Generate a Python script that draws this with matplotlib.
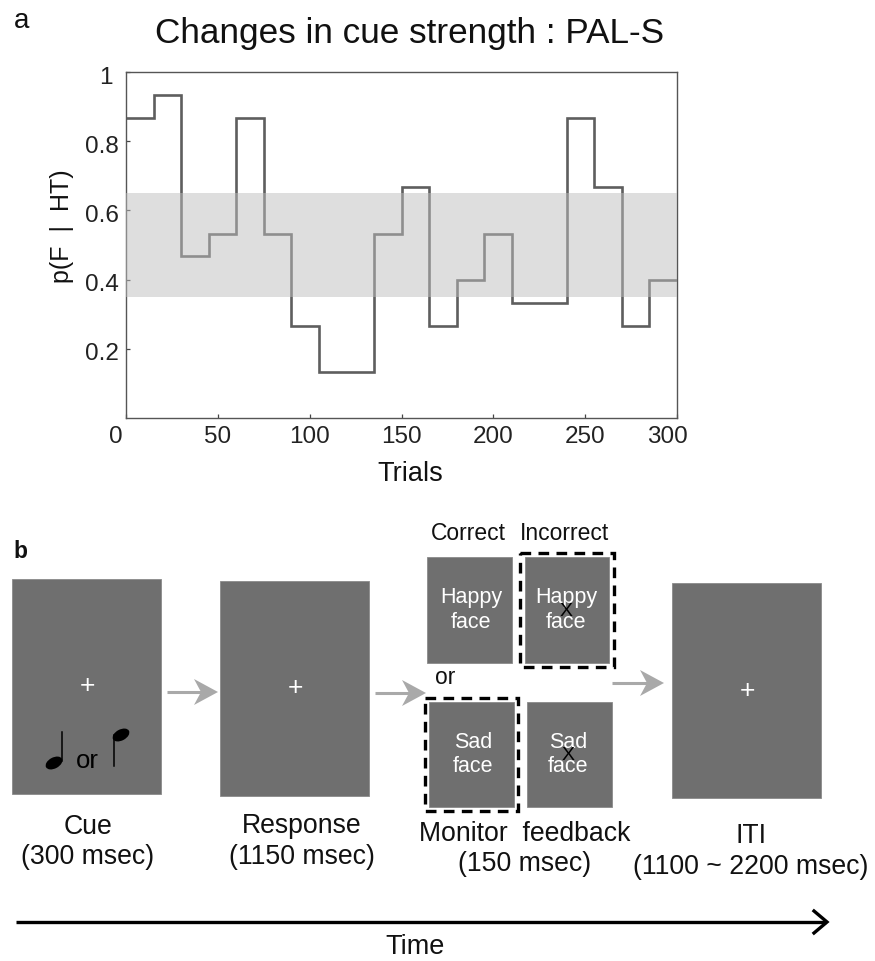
import matplotlib
matplotlib.use("Agg")
import matplotlib.pyplot as plt
from matplotlib.patches import Rectangle, Ellipse, Polygon
from matplotlib.transforms import ScaledTranslation

plt.rcParams['font.family'] = ['Liberation Sans', 'DejaVu Sans']

W, H = 875, 961

# cue strength blocks
block_edges = [0, 15, 30, 45, 60, 75, 90, 105, 135, 150, 165, 180, 195, 210, 240, 255, 270, 285, 300]
block_values = [0.867, 0.933, 0.467, 0.533, 0.867, 0.533, 0.267, 0.133, 0.533,
                0.667, 0.267, 0.4, 0.533, 0.333, 0.867, 0.667, 0.267, 0.4]
band_low, band_high = 0.35, 0.65
x_ticks = [0, 50, 100, 150, 200, 250, 300]
y_ticks = [0.2, 0.4, 0.6, 0.8, 1]
y_tick_labels = ['0.2', '0.4', '0.6', '0.8', '1']

panel_labels = ['a', 'b']
title = 'Changes in cue strength : PAL-S'

fig = plt.figure(figsize=(W / 100, H / 100), dpi=100)

# whole-figure layer in pixel coordinates for the task diagram
bg = fig.add_axes([0, 0, 1, 1])
bg.set_xlim(0, W)
bg.set_ylim(H, 0)
bg.axis('off')

# panel a
left, right, top, bottom = 126, 677, 72, 418
ax = fig.add_axes([left / W, 1 - bottom / H, (right - left) / W, (bottom - top) / H])
ax.plot(block_edges, block_values + [block_values[-1]], drawstyle='steps-post',
        color='#5e5e5e', lw=1.9, solid_joinstyle='miter')
ax.axhspan(band_low, band_high, color='#bfbfbf', alpha=0.5, lw=0, zorder=3)
ax.set_xlim(0, 300)
ax.set_ylim(0, 1)
ax.set_xticks(x_ticks)
ax.set_yticks(y_ticks)
ax.set_yticklabels(y_tick_labels)
ax.tick_params(direction='in', length=3, width=0.9, color='#444444', labelsize=17.5,
               labelcolor='#222222', pad=6)
for s in ax.spines.values():
    s.set_color('#555555')
    s.set_linewidth(1.0)

# the outer labels sit off their ticks in the original
def shift(label, dx, dy):
    label.set_transform(label.get_transform() + ScaledTranslation(dx / 100, -dy / 100, fig.dpi_scale_trans))

xl = ax.get_xticklabels()
shift(xl[0], -10, 0)
shift(xl[-1], -10, 0)
shift(ax.get_yticklabels()[-1], -5, 3)
for l in ax.get_yticklabels()[:-1]:
    shift(l, 1, 3)

bg.text(22, 21, panel_labels[0], fontsize=20, ha='center', va='center', color='#111111')
bg.text(410, 33, title, fontsize=25.3, ha='center', va='center', color='#111111')
bg.text(410, 474, 'Trials', fontsize=19.5, ha='center', va='center', color='#111111')
bg.text(62, 226, 'p(F  |  HT)', fontsize=18, rotation=90, ha='center', va='center', color='#111111')

# panel b
bg.text(20, 551, panel_labels[1], fontsize=16.5, fontweight='bold', ha='center', va='center', color='#111111')

BOX = '#6f6f6f'

def box(x0, y0, x1, y1):
    bg.add_patch(Rectangle((x0, y0), x1 - x0, y1 - y0, fc=BOX, ec='#8a8a8a', lw=0.6))

def dashed(x0, y0, x1, y1):
    bg.add_patch(Rectangle((x0, y0), x1 - x0, y1 - y0, fc='none', ec='black', lw=2.4,
                           ls=(0, (3.2, 2.2))))

def cross(x, y):
    bg.text(x, y, '+', color='white', fontsize=19, ha='center', va='center')

def grey_arrow(x0, x1, y):
    bg.plot([x0, x1 - 14], [y, y], color='#a9a9a9', lw=2.2, solid_capstyle='butt')
    bg.add_patch(Polygon([(x1, y), (x1 - 24, y - 13), (x1 - 17, y), (x1 - 24, y + 13)],
                         fc='#a9a9a9', ec='none'))

def note(hx, hy, sx, sy0, sy1):
    bg.add_patch(Ellipse((hx, hy), 18, 11, angle=-28, fc='black', ec='none'))
    bg.plot([sx, sx], [sy0, sy1], color='black', lw=1.1)

def face(cx, y0, word):
    bg.text(cx, y0, word, color='white', fontsize=15.5, ha='center', va='center')
    bg.text(cx, y0 + 25, 'face', color='white', fontsize=15.5, ha='center', va='center')

box(12, 579, 161, 794)
box(220, 581, 369, 796)
box(427, 557, 512, 663)
box(525, 557, 609, 663)
box(429, 702, 514, 807)
box(527, 702, 612, 807)
box(672, 583, 821, 798)
dashed(520, 553, 614, 667)
dashed(425, 698, 518, 811)

cross(87, 686)
cross(295, 688)
cross(747, 691)

note(54, 763, 62, 732, 761)
note(121, 735, 114, 735, 766)
bg.text(87, 761, 'or', color='black', fontsize=18.5, ha='center', va='center')

face(471, 598, 'Happy')
face(566, 598, 'Happy')
face(473, 742, 'Sad')
face(568, 742, 'Sad')
bg.text(566, 611, 'X', color='black', fontsize=14, ha='center', va='center')
bg.text(568, 755, 'X', color='black', fontsize=14, ha='center', va='center')

grey_arrow(167, 218, 692)
grey_arrow(375, 426, 693)
grey_arrow(612, 664, 683)

cap = dict(fontsize=19.2, ha='center', va='center', color='#111111')
bg.text(88, 827, 'Cue', **cap)
bg.text(88, 857, '(300 msec)', **cap)
bg.text(302, 826, 'Response', **cap)
bg.text(302, 857, '(1150 msec)', **cap)
bg.text(525, 834, 'Monitor  feedback', **cap)
bg.text(525, 864, '(150 msec)', **cap)
bg.text(751, 836, 'ITI', **cap)
bg.text(751, 867, '(1100 ~ 2200 msec)', **cap)
bg.text(468, 533, 'Correct', fontsize=16.5, ha='center', va='center', color='#111111')
bg.text(565, 533, 'Incorrect', fontsize=16.5, ha='center', va='center', color='#111111')
bg.text(445, 678, 'or', fontsize=16.5, ha='center', va='center', color='#111111')

# time arrow
bg.plot([16, 826], [922, 922], color='black', lw=2.4, solid_capstyle='butt')
bg.plot([814, 827, 814], [911, 922, 933], color='black', lw=2.4, solid_joinstyle='miter')
bg.text(415, 947, 'Time', fontsize=19.5, ha='center', va='center', color='#111111')

fig.savefig('out.png', dpi=100)
